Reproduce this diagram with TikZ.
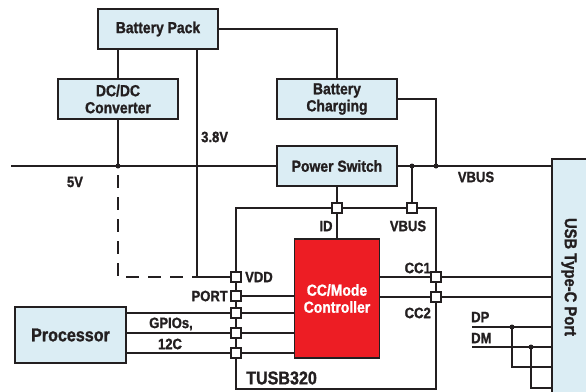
\documentclass[tikz,border=0pt]{standalone}
\usepackage{fontspec}
\setmainfont{Liberation Sans}[FakeStretch=0.87,BoldFeatures={FakeBold=1.2}]
\usepackage{tikz}
\usetikzlibrary{positioning,calc}
\definecolor{ink}{RGB}{35,31,32}
\definecolor{paleblue}{RGB}{219,237,244}
\definecolor{chipred}{RGB}{237,29,36}
\tikzset{
  wire/.style={line width=1.3pt,ink},
  block/.style={draw=ink,line width=1.5pt,fill=paleblue,align=center,text=ink,
    minimum width=120pt,minimum height=40pt,inner sep=0pt,
    font=\bfseries\fontsize{16}{17}\selectfont},
  chip/.style={draw=ink,line width=1.5pt,fill=chipred,align=center,text=white,
    minimum width=85pt,minimum height=119pt,inner sep=0pt,
    font=\bfseries\fontsize{16}{17}\selectfont},
  pad/.style={draw=ink,line width=1.2pt,fill=white,minimum size=10pt,inner sep=0pt},
  junction/.style={circle,fill=ink,inner sep=0pt,minimum size=5pt},
  tag/.style={font=\bfseries\fontsize{15}{16}\selectfont,text=ink,inner sep=0pt},
  bigtag/.style={font=\bfseries\fontsize{18.5}{20}\selectfont,text=ink,inner sep=0pt},
  dashwire/.style={wire,dash pattern=on 13pt off 9pt}
}

\begin{document}
\begin{tikzpicture}[x=1pt,y=-1pt]
  \clip (0,0) rectangle (586,391);
  % boxes
  \node[draw=ink,line width=1.3pt,minimum width=200pt,minimum height=181pt] (tusb) at (336,298.5) {};
  \node[block] (pack) at (158,29) {Battery Pack};
  \node[block] (dcdc) at (118,99) {DC/DC\\Converter};
  \node[block] (charge) at (337,99) {Battery\\Charging};
  \node[block] (pswitch) at (337,166) {Power Switch};
  \node[block,minimum width=111pt,minimum height=56pt,font=\bfseries\fontsize{18.5}{20}\selectfont] (proc) at (70.5,335) {Processor};
  \node[block,minimum width=48pt,minimum height=242pt] (usb) at (576,280) {};
  \node[chip] (ctrl) at (337,298.5) {CC/Mode\\Controller};
  % pins
  \foreach \n/\y in {vdd/277,port/296,ga/313,gb/333,gc/353} {\coordinate (p\n) at (236,\y);}
  \foreach \n/\y in {cca/277,ccb/297} {\coordinate (p\n) at (436,\y);}
  \coordinate (pid) at (337,208);
  \coordinate (pvbus) at (412,208);
  \coordinate (j5) at (dcdc.south |- pswitch.west);
  \coordinate (jv) at (pvbus |- pswitch.east);
  \coordinate (jc) at (436,166);
  \coordinate (jdp) at (512,327);
  \coordinate (jdm) at (531,347);
  \coordinate (w5) at (11,166);
  \coordinate (c38) at (197,277);
  \coordinate (dp) at (472,327);
  \coordinate (dm) at (472,347);
  % wires
  \draw[wire] (pack.south -| dcdc.north) -- (dcdc.north);
  \draw[wire] (dcdc.south) -- (j5);
  \draw[wire] (w5) -- (pswitch.west);
  \draw[wire] (pack.south -| c38) -- (c38) -- (pvdd);
  \draw[dashwire,shorten <=9pt] (j5) -- (j5 |- c38) -- (c38);
  \draw[wire] (pack.east) -- (pack.east -| charge.north) -- (charge.north);
  \draw[wire] (charge.east) -- (charge.east -| jc) -- (jc);
  \draw[wire] (pswitch.east) -- (pswitch.east -| usb.west);
  \draw[wire] (jv) -- (pvbus);
  \draw[wire] (pswitch.south) -- (pid) -- (ctrl.north);
  \foreach \c in {cca,ccb} {\draw[wire] (ctrl.east |- p\c) -- (p\c) -- (p\c -| usb.west);}
  \draw[wire] (pport) -- (pport -| ctrl.west);
  \foreach \g in {ga,gb,gc} {\draw[wire] (proc.east |- p\g) -- (p\g) -- (p\g -| ctrl.west);}
  \draw[wire] (dp) -- (dp -| usb.west);
  \draw[wire] (dm) -- (dm -| usb.west);
  \draw[wire] (jdp) |- ($(usb.west)+(0,87)$);
  \draw[wire] (jdm) |- ($(usb.west)+(0,108)$);
  % pins and dots on top
  \foreach \n in {vdd,port,ga,gb,gc,cca,ccb,id,vbus} {\node[pad] (q\n) at (p\n) {};}
  \foreach \j in {j5,jv,jc,jdp,jdm} {\node[junction] (d\j) at (\j) {};}
  % labels
  \node[tag,anchor=west] (l38) at (201,137) {3.8V};
  \node[tag] (l5v) at (75,182) {5V};
  \node[tag] (lbus) at (476,177) {VBUS};
  \node[tag,anchor=west] (lvdd) at (245,277) {VDD};
  \node[tag,anchor=east] (lport) at (228,296) {PORT};
  \node[tag] (lgpio) at (171,324) {GPIOs,};
  \node[tag] (liic) at (170,344) {12C};
  \node[tag] (lid) at (326,226) {ID};
  \node[tag] (lvbus) at (408,226) {VBUS};
  \node[tag,anchor=east] (lcca) at (431,268) {CC1};
  \node[tag,anchor=east] (lccb) at (431,313) {CC2};
  \node[tag,anchor=west] (ldp) at (471,317) {DP};
  \node[tag,anchor=west] (ldm) at (471,338) {DM};
  \node[bigtag,anchor=west] (ltusb) at (246,378) {TUSB320};
  \node[tag,rotate=-90,font=\bfseries\fontsize{17}{18}\selectfont] (lusb) at (569,277) {USB Type-C Port};
\end{tikzpicture}
\end{document}
